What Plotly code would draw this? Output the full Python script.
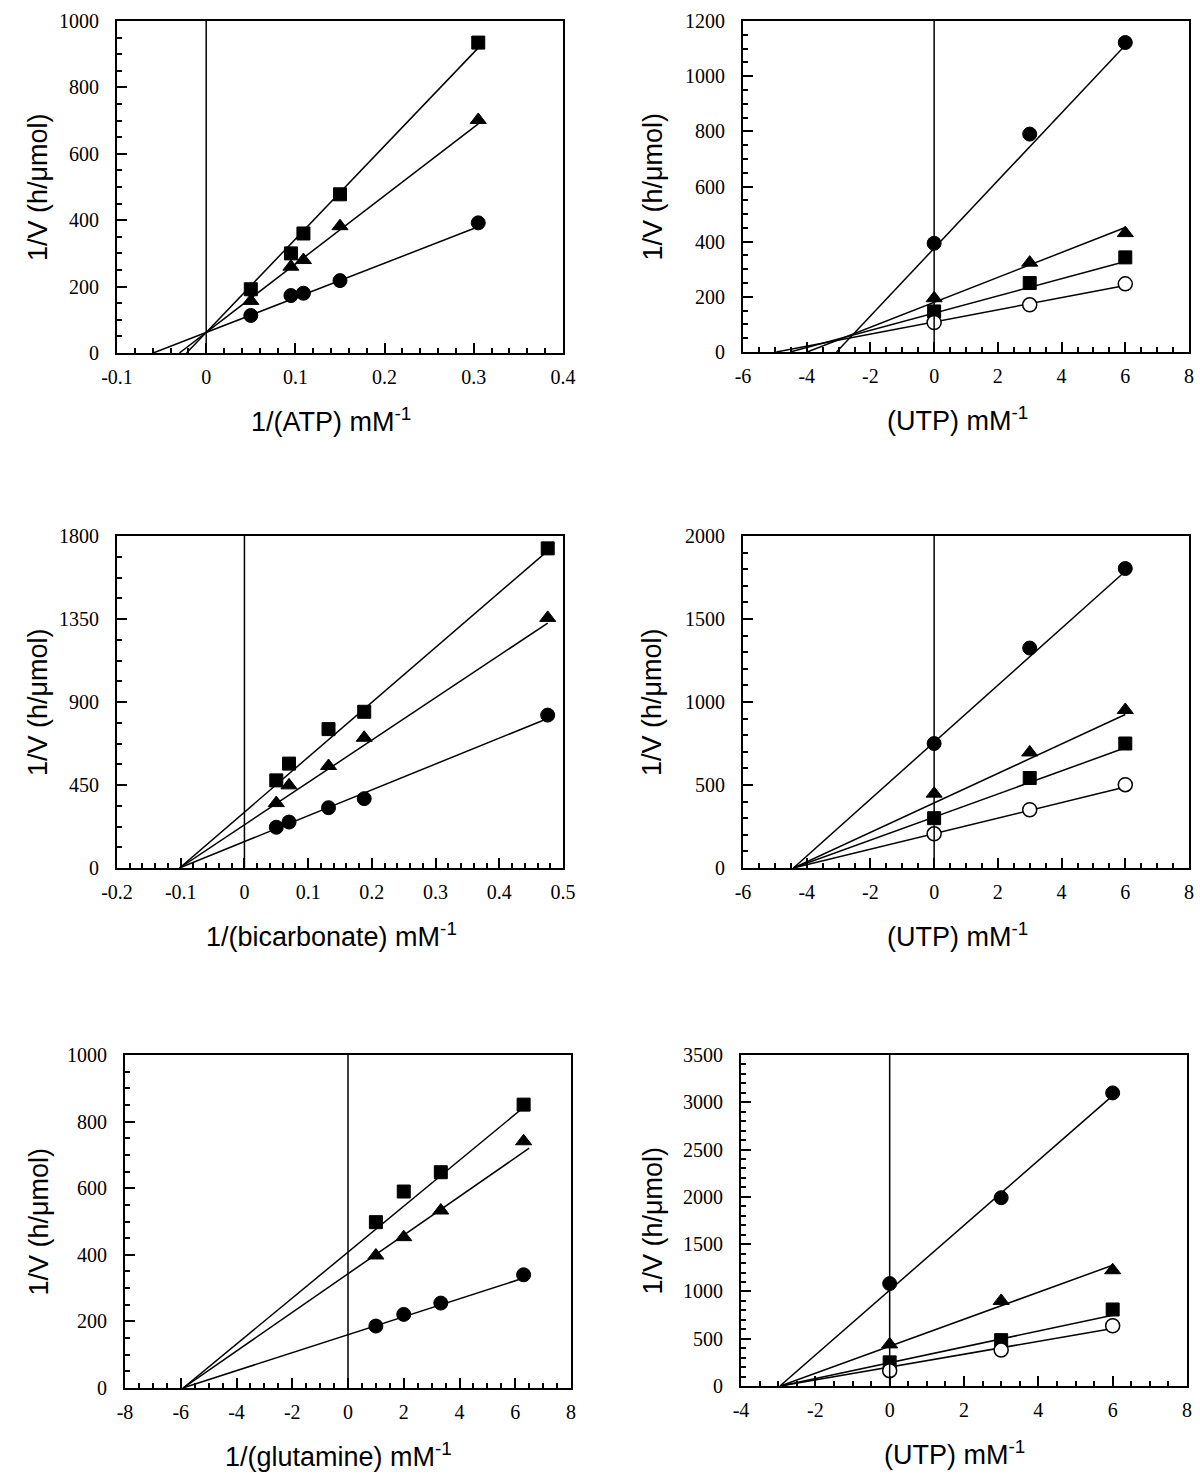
import plotly.graph_objects as go

W, H = 1200, 1481

# ---------------- Data ----------------
# Panel 1: 1/(ATP)
atp_x = [0.05, 0.095, 0.109, 0.15, 0.305]
atp_sq = [192, 300, 360, 478, 935]
atp_tri = [157, 260, 280, 382, 702]
atp_circ = [113, 173, 180, 218, 392]
atp_fit_b = [62, 62, 62]          # squares, triangles, circles
atp_fit_m = [2810, 2060, 1043]
atp_fit_xmax = 0.305

# Panel 2: (UTP) top
utp1_x = [0, 3, 6]
utp1_circ = [394, 790, 1122]
utp1_tri = [195, 324, 431]
utp1_sq = [147, 250, 343]
utp1_open = [107, 171, 247]
utp1_fit_b = [376, 180, 141, 109]  # circ, tri, sq, open
utp1_fit_m = [122.7, 45.2, 31.2, 22.0]
utp1_fit_xmax = 6

# Panel 3: 1/(bicarbonate)
bic_x = [0.05, 0.07, 0.132, 0.188, 0.476]
bic_sq = [475, 566, 753, 847, 1733]
bic_tri = [352, 448, 553, 706, 1356]
bic_circ = [221, 249, 327, 376, 829]
bic_fit_b = [303, 234, 143]
bic_fit_m = [2976, 2298, 1403]
bic_fit_xmax = 0.476

# Panel 4: (UTP) middle
utp2_x = [0, 3, 6]
utp2_circ = [750, 1325, 1804]
utp2_tri = [448, 696, 952]
utp2_sq = [300, 542, 750]
utp2_open = [206, 351, 502]
utp2_fit_b = [758, 392, 307, 207]
utp2_fit_m = [171.6, 88.8, 69.5, 46.8]
utp2_fit_xmax = 6

# Panel 5: 1/(glutamine)
gln_x = [1.0, 2.0, 3.33, 6.3]
gln_sq = [498, 590, 648, 851]
gln_tri = [398, 453, 533, 741]
gln_circ = [186, 221, 255, 340]
gln_fit_b = [408, 343, 160]
gln_fit_m = [69.0, 58.0, 27.0]
gln_fit_xmax = 6.5

# Panel 6: (UTP) bottom
utp3_x = [0, 3, 6]
utp3_circ = [1083, 1991, 3099]
utp3_tri = [440, 900, 1224]
utp3_sq = [250, 485, 809]
utp3_open = [162, 380, 637]
utp3_fit_b = [1013, 420, 246, 200]
utp3_fit_m = [343, 142.8, 83.8, 68.0]
utp3_fit_xmax = 6

# Tick labels
atp_xticks = ["-0.1", "0", "0.1", "0.2", "0.3", "0.4"]
utp_xticks = ["-6", "-4", "-2", "0", "2", "4", "6", "8"]
bic_xticks = ["-0.2", "-0.1", "0", "0.1", "0.2", "0.3", "0.4", "0.5"]
gln_xticks = ["-8", "-6", "-4", "-2", "0", "2", "4", "6", "8"]
utp3_xticks = ["-4", "-2", "0", "2", "4", "6", "8"]
y1_ticks = ["0", "200", "400", "600", "800", "1000"]
y2_ticks = ["0", "200", "400", "600", "800", "1000", "1200"]
y3_ticks = ["0", "450", "900", "1350", "1800"]
y4_ticks = ["0", "500", "1000", "1500", "2000"]
y5_ticks = ["0", "200", "400", "600", "800", "1000"]
y6_ticks = ["0", "500", "1000", "1500", "2000", "2500", "3000", "3500"]

x_titles = ["1/(ATP) mM<sup>-1</sup>", "(UTP) mM<sup>-1</sup>",
            "1/(bicarbonate) mM<sup>-1</sup>", "(UTP) mM<sup>-1</sup>",
            "1/(glutamine) mM<sup>-1</sup>", "(UTP) mM<sup>-1</sup>"]
y_title = "1/V (h/\u03bcmol)"

# ---------------- Styles / layout ----------------
SERIF = "Liberation Serif"
SANS = "Liberation Sans"
STY = {
    "sq": dict(symbol="square", size=13, color="black", line=dict(color="black", width=1)),
    "tri": dict(symbol="triangle-up", size=14, color="black", line=dict(color="black", width=1)),
    "circ": dict(symbol="circle", size=14, color="black", line=dict(color="black", width=1)),
    "open": dict(symbol="circle", size=14, color="white", line=dict(color="black", width=1.5)),
}

# frame pixel boxes: (left, right, top, bottom)
frames = [
    (117, 563, 21, 353),
    (743, 1189, 21, 352),
    (117, 563, 536, 868),
    (743, 1189, 536, 868),
    (125, 571, 1055, 1388),
    (741, 1187, 1055, 1386),
]

panels = [
    dict(x=atp_x, series=[("sq", atp_sq), ("tri", atp_tri), ("circ", atp_circ)],
         fb=atp_fit_b, fm=atp_fit_m, xmax=atp_fit_xmax,
         xr=[-0.1, 0.4], xmin=0.02, xt=atp_xticks,
         yr=[0, 1000], ymin=50, yt=y1_ticks),
    dict(x=utp1_x, series=[("circ", utp1_circ), ("tri", utp1_tri), ("sq", utp1_sq), ("open", utp1_open)],
         fb=utp1_fit_b, fm=utp1_fit_m, xmax=utp1_fit_xmax,
         xr=[-6, 8], xmin=0.5, xt=utp_xticks,
         yr=[0, 1200], ymin=50, yt=y2_ticks),
    dict(x=bic_x, series=[("sq", bic_sq), ("tri", bic_tri), ("circ", bic_circ)],
         fb=bic_fit_b, fm=bic_fit_m, xmax=bic_fit_xmax,
         xr=[-0.2, 0.5], xmin=0.02, xt=bic_xticks,
         yr=[0, 1800], ymin=112.5, yt=y3_ticks),
    dict(x=utp2_x, series=[("circ", utp2_circ), ("tri", utp2_tri), ("sq", utp2_sq), ("open", utp2_open)],
         fb=utp2_fit_b, fm=utp2_fit_m, xmax=utp2_fit_xmax,
         xr=[-6, 8], xmin=0.5, xt=utp_xticks,
         yr=[0, 2000], ymin=100, yt=y4_ticks),
    dict(x=gln_x, series=[("sq", gln_sq), ("tri", gln_tri), ("circ", gln_circ)],
         fb=gln_fit_b, fm=gln_fit_m, xmax=gln_fit_xmax,
         xr=[-8, 8], xmin=0.5, xt=gln_xticks,
         yr=[0, 1000], ymin=50, yt=y5_ticks),
    dict(x=utp3_x, series=[("circ", utp3_circ), ("tri", utp3_tri), ("sq", utp3_sq), ("open", utp3_open)],
         fb=utp3_fit_b, fm=utp3_fit_m, xmax=utp3_fit_xmax,
         xr=[-4, 8], xmin=0.5, xt=utp3_xticks,
         yr=[0, 3500], ymin=100, yt=y6_ticks),
]

fig = go.Figure()
layout = dict(width=W, height=H, margin=dict(l=0, r=0, t=0, b=0, pad=0),
              paper_bgcolor="white", plot_bgcolor="white", showlegend=False)
annotations = []
shapes = []

for i, (p, fr) in enumerate(zip(panels, frames), start=1):
    xa = "x" if i == 1 else f"x{i}"
    ya = "y" if i == 1 else f"y{i}"
    l, r, t, b = fr
    # fit lines (from x-intercept to end of data range)
    for b0, m in zip(p["fb"], p["fm"]):
        x0 = -b0 / m
        fig.add_trace(go.Scatter(x=[x0, p["xmax"]], y=[0, b0 + m * p["xmax"]],
                                 mode="lines", line=dict(color="black", width=1.5),
                                 xaxis=xa, yaxis=ya, hoverinfo="skip"))
    for kind, yv in p["series"]:
        fig.add_trace(go.Scatter(x=p["x"], y=yv, mode="markers", marker=STY[kind],
                                 xaxis=xa, yaxis=ya))
    xvals = [float(s) for s in p["xt"]]
    yvals = [float(s) for s in p["yt"]]
    common = dict(showgrid=False, zeroline=False, showline=True, linecolor="black",
                  linewidth=2, mirror=True, ticks="inside", ticklen=10, tickwidth=1.5,
                  tickcolor="black", tickmode="array", automargin=False,
                  tickfont=dict(family=SERIF, size=20, color="black"))
    layout["xaxis" if i == 1 else f"xaxis{i}"] = dict(
        common, domain=[l / W, r / W], anchor=ya, range=p["xr"],
        tickvals=xvals, ticktext=p["xt"], ticklabelstandoff=5,
        minor=dict(ticks="inside", ticklen=5, tickwidth=1.5, tickcolor="black",
                   tickmode="linear", tick0=p["xr"][0], dtick=p["xmin"]))
    layout["yaxis" if i == 1 else f"yaxis{i}"] = dict(
        common, domain=[1 - b / H, 1 - t / H], anchor=xa, range=p["yr"],
        tickvals=yvals, ticktext=p["yt"], ticklabelstandoff=12,
        minor=dict(ticks="inside", ticklen=5, tickwidth=1.5, tickcolor="black",
                   tickmode="linear", tick0=0, dtick=p["ymin"]))
    # vertical line at x = 0
    shapes.append(dict(type="line", xref=xa, yref=f"{ya} domain", x0=0, x1=0, y0=0, y1=1,
                       line=dict(color="black", width=1.5)))
    # axis titles
    cx = (l + r) / 2 - 9
    annotations.append(dict(text=x_titles[i - 1], xref="paper", yref="paper",
                            x=cx / W, y=1 - (b + 67) / H, showarrow=False,
                            xanchor="center", yanchor="middle",
                            font=dict(family=SANS, size=27, color="black")))
    ty = 38 if i % 2 == 1 else 652
    annotations.append(dict(text=y_title, xref="paper", yref="paper",
                            x=ty / W, y=1 - ((t + b) / 2) / H, showarrow=False,
                            textangle=-90, xanchor="center", yanchor="middle",
                            font=dict(family=SANS, size=27, color="black")))

layout["annotations"] = annotations
layout["shapes"] = shapes
fig.update_layout(**layout)
fig.write_html("out.html", config={"displayModeBar": False},
               post_script="document.body.style.margin='0';document.body.style.padding='0';")
